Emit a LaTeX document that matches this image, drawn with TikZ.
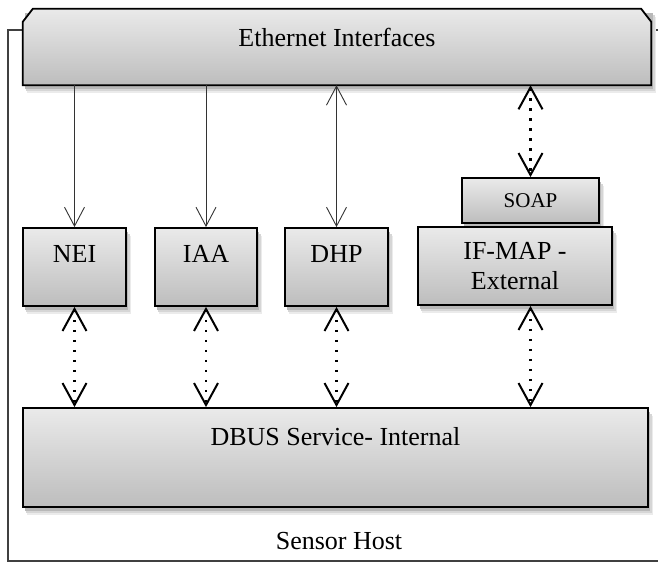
\documentclass[tikz,border=0pt]{standalone}
\usepackage{fontspec}
\setmainfont{Liberation Serif}
\usetikzlibrary{arrows.meta,calc}
\definecolor{boxtop}{HTML}{EAEAEA}
\definecolor{boxbot}{HTML}{BDBDBD}
\newcommand{\bigfont}{\fontsize{26}{30}\selectfont}
\newcommand{\smallfont}{\fontsize{21}{25}\selectfont}
\newcommand{\softshadow}[4]{%
  \fill[black!8]  (#1+4,#2+8) rectangle (#3+5,#4+8);
  \fill[black!16] (#1+3,#2+6) rectangle (#3+3.5,#4+6);
  \fill[black!28] (#1+2,#2+4) rectangle (#3+2,#4+4);}
\tikzset{
  box/.style={draw=black, line width=1.8pt, top color=boxtop, bottom color=boxbot,
    inner sep=0pt, font=\bigfont, align=center},
  txt/.style={font=\bigfont, inner sep=0pt},
  hostbox/.style={draw=black!75, line width=1.4pt, inner sep=0pt},
  thinarrow/.style={draw=black!80, line width=0.9pt,
    -{Straight Barb[length=19pt,width=20pt,line width=0.9pt]}},
  thinboth/.style={draw=black!80, line width=0.9pt,
    {Straight Barb[length=19pt,width=20pt,line width=0.9pt]}-{Straight Barb[length=19pt,width=20pt,line width=0.9pt]}},
  dotarrow/.style={draw=black, line width=2.4pt, dash pattern=on 2.4pt off 7.6pt,
    {Straight Barb[length=22pt,width=24pt,line width=2pt]}-{Straight Barb[length=22pt,width=24pt,line width=2pt]}}
}
\begin{document}
\begin{tikzpicture}[x=1pt,y=-1pt]
\clip (0,0) rectangle (658,566);
\useasboundingbox (0,0) rectangle (658,566);
% outer host box
\node[hostbox, minimum width=662pt, minimum height=531pt] (host) at (339,295.5) {};
\node[txt] (hosttxt) at ($(host.south)+(0,-21)$) {Sensor Host};
% soft shadows
\softshadow{23}{9}{651}{85}
\softshadow{23}{228}{126}{306}
\softshadow{155}{228}{257}{306}
\softshadow{285}{228}{388}{306}
\softshadow{462}{178}{599}{223}
\softshadow{418}{227}{612}{305}
\softshadow{23}{408}{648}{507}
% Ethernet bar (anchor node + chamfered outline)
\node[inner sep=0pt, minimum width=628pt, minimum height=76pt] (eth) at (337,47) {};
\path[draw=black, line width=1.8pt, top color=boxtop, bottom color=boxbot, line join=miter]
  (eth.south west) -- ($(eth.north west)+(0,13)$) -- ($(eth.north west)+(10,0)$)
  -- ($(eth.north east)+(-10,0)$) -- ($(eth.north east)+(0,13)$) -- (eth.south east) -- cycle;
\node[txt] (ethtxt) at ($(eth.center)+(0,-9.5)$) {Ethernet Interfaces};
% service boxes
\node[box, minimum width=103pt, minimum height=78pt,
  label={[name=neitxt, txt, yshift=13pt]center:NEI}] (nei) at (74.5,267) {};
\node[box, minimum width=102pt, minimum height=78pt,
  label={[name=iaatxt, txt, yshift=13pt]center:IAA}] (iaa) at (206,267) {};
\node[box, minimum width=103pt, minimum height=78pt,
  label={[name=dhptxt, txt, yshift=13pt]center:DHP}] (dhp) at (336.5,267) {};
\node[box, minimum width=137pt, minimum height=45pt, font=\smallfont] (soap) at (530.5,200.5) {SOAP};
\node[box, minimum width=194pt, minimum height=78pt] (ifmap) at (515,266) {IF-MAP -\\External};
\node[box, minimum width=625pt, minimum height=99pt,
  label={[name=dbustxt, txt, yshift=21pt]center:DBUS Service- Internal}] (dbus) at (335.5,457.5) {};
% connectors
\draw[thinarrow] (nei.north |- eth.south) -- (nei.north);
\draw[thinarrow] (iaa.north |- eth.south) -- (iaa.north);
\draw[thinboth] (dhp.north |- eth.south) -- (dhp.north);
\draw[dotarrow] (soap.north |- eth.south) -- (soap.north);
\draw[dotarrow] (nei.south) -- (nei.south |- dbus.north);
\draw[dotarrow] (iaa.south) -- (iaa.south |- dbus.north);
\draw[dotarrow] (dhp.south) -- (dhp.south |- dbus.north);
\draw[dotarrow] (soap.north |- ifmap.south) -- (soap.north |- dbus.north);
\end{tikzpicture}
\end{document}
